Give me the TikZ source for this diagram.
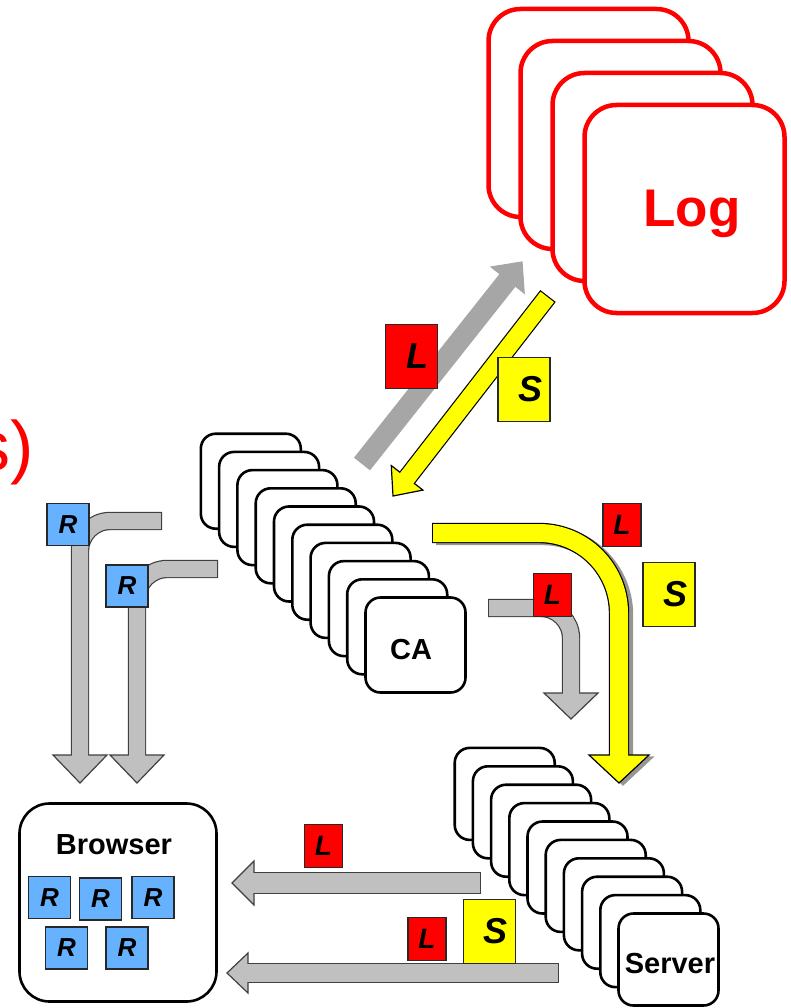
\documentclass[tikz,border=0pt]{standalone}
\usepackage{fontspec}
\setmainfont{Liberation Sans}
\usetikzlibrary{calc}

\definecolor{tagred}{RGB}{255,0,0}
\definecolor{tagyellow}{RGB}{255,255,0}
\definecolor{tagblue}{RGB}{102,178,255}
\definecolor{pipegray}{RGB}{192,192,192}
\definecolor{pipeline}{RGB}{64,64,64}
\definecolor{diaggray}{RGB}{166,166,166}
\definecolor{shadowgray}{RGB}{150,150,150}
\definecolor{tagline}{RGB}{40,40,40}

% Block arrow: #1 fill, #2 outline, #3 shaft width, #4 head half-width,
% #5 bend radius, #6 shaft path (tail ... head base), #7 head base, #8 tip
\newcommand{\blockarrow}[8]{%
  \draw[line width=#3pt+2.4pt, draw=#2, rounded corners=#5] #6;
  \filldraw[fill=#1, draw=#2, line width=1.2pt, line join=miter]
    ($(#7)!#4pt!90:(#8)$) -- (#8) -- ($(#7)!#4pt!-90:(#8)$) -- cycle;
  \draw[line width=#3pt, draw=#1, rounded corners=#5,
        shorten <=1.2pt, shorten >=-4pt] #6;
}

\newcommand{\bigtagfont}{\fontsize{36}{40}\selectfont\bfseries\itshape}
\newcommand{\smalltagfont}{\fontsize{28}{32}\selectfont\bfseries\itshape}
\newcommand{\rtagfont}{\fontsize{26}{30}\selectfont\bfseries\itshape}
\newcommand{\cardfont}{\fontsize{29}{34}\selectfont\bfseries}

\tikzset{
  card/.style={draw=black, line width=2.6pt, fill=white, rounded corners=15pt,
    minimum width=100pt, minimum height=95pt, inner sep=0pt, outer sep=0pt},
  srvcard/.style={card, minimum height=92pt},
  logcard/.style={draw=red, line width=4.5pt, fill=white, rounded corners=32pt,
    minimum width=200pt, minimum height=208pt, inner sep=0pt, outer sep=0pt},
  browserbox/.style={draw=black, line width=2.6pt, fill=white, rounded corners=30pt,
    minimum width=197pt, minimum height=198pt, inner sep=0pt, outer sep=0pt},
  cardtext/.style={anchor=base, inner sep=0pt, font=\cardfont},
  tag/.style={draw=tagline, line width=1.2pt, inner sep=0pt, outer sep=0pt},
  bigtag/.style={tag, minimum width=52pt, minimum height=64pt, font=\bigtagfont,
    execute at begin node=\hspace*{12pt}},
  smalltag/.style={tag, minimum width=38pt, minimum height=43pt, font=\smalltagfont},
  rtag/.style={tag, fill=tagblue, minimum width=42pt, minimum height=42pt, font=\rtagfont},
}

\begin{document}
\begin{tikzpicture}[x=1pt, y=-1pt]
\useasboundingbox (0,0) rectangle (790,1008);

% ---- Log stack ----
\foreach \k in {3,2,1} \node[logcard] (logback\k) at ({684.5-32*\k},{209-32*\k}) {};
\node[logcard] (log) at (684.5,209) {};
\node[anchor=base, inner sep=0pt, text=red, font=\fontsize{53}{60}\selectfont\bfseries]
  (logtext) at (692,227) {Log};

% ---- CA stack ----
\foreach \k in {9,8,...,1} \node[card] (caback\k) at ({415.5-18.3*\k},{645-18.2*\k}) {};
\node[card] (ca) at (415.5,645) {};
\node[cardtext] (catext) at (411,659) {CA};

% ---- Server stack ----
\foreach \k in {9,8,...,1} \node[srvcard] (srvback\k) at ({668.5-18.2*\k},{959.5-18.4*\k}) {};
\node[srvcard] (server) at (668.5,959.5) {};
\node[cardtext] (servertext) at (670,973) {Server};

% ---- Browser ----
\node[browserbox] (browser) at (118,902.5) {};
\node[cardtext] (browsertext) at (114,854) {Browser};

% ---- CA <-> Log ----
\coordinate (gt) at (362,464);
\coordinate (gp) at (522,262);
\coordinate (gb) at ($(gp)!23pt!(gt)$);
\blockarrow{diaggray}{diaggray}{18}{21}{0pt}{(gt) -- (gb)}{gb}{gp}

\coordinate (yt) at (548,296);
\coordinate (yp) at (393,496);
\coordinate (yb) at ($(yp)!23pt!(yt)$);
\blockarrow{tagyellow}{black}{17}{20}{0pt}{(yt) -- (yb)}{yb}{yp}

% ---- CA -> Server (with shadow) ----
\coordinate (bt) at (432,533);
\coordinate (bc) at (619,533);
\coordinate (bb) at (619,755);
\coordinate (bp) at (619,783);
\begin{scope}[transform canvas={xshift=4pt,yshift=-2pt}]
  \blockarrow{shadowgray}{shadowgray}{18}{30}{80pt}{(bt) -- (bc) -- (bb)}{bb}{bp}
\end{scope}
\blockarrow{tagyellow}{black}{18}{30}{80pt}{(bt) -- (bc) -- (bb)}{bb}{bp}

\coordinate (st) at (488,608);
\coordinate (sc) at (571,608);
\coordinate (sb) at (571,693);
\coordinate (sp) at (571,719);
\blockarrow{pipegray}{pipeline}{16}{27}{30pt}{(st) -- (sc) -- (sb)}{sb}{sp}

% ---- CA -> Browser ----
\coordinate (at) at (162,521);
\coordinate (ac) at (80,521);
\coordinate (ab) at (80,755);
\coordinate (ap) at (80,783);
\blockarrow{pipegray}{pipeline}{16}{27}{30pt}{(at) -- (ac) -- (ab)}{ab}{ap}

\coordinate (ct) at (218,569);
\coordinate (cc) at (137,569);
\coordinate (cb) at (137,755);
\coordinate (cp) at (137,783);
\blockarrow{pipegray}{pipeline}{16}{27}{30pt}{(ct) -- (cc) -- (cb)}{cb}{cp}

% ---- Server -> Browser ----
\coordinate (ht) at (481,883);
\coordinate (hb) at (254,883);
\coordinate (hp) at (232,883);
\blockarrow{pipegray}{pipeline}{20}{22}{0pt}{(ht) -- (hb)}{hb}{hp}

\coordinate (kt) at (559,973);
\coordinate (kb) at (248,973);
\coordinate (kp) at (227,973);
\blockarrow{pipegray}{pipeline}{18}{20}{0pt}{(kt) -- (kb)}{kb}{kp}

% ---- tags ----
\node[bigtag, fill=tagred] (tagLlog) at (411.5,356.5) {L};
\node[bigtag, fill=tagyellow] (tagSlog) at (524,389.5) {S};
\node[smalltag, fill=tagred] (tagLsrvA) at (552.5,595) {L};
\node[smalltag, fill=tagred] (tagLsrvB) at (622,525) {L};
\node[bigtag, fill=tagyellow] (tagSsrv) at (669,594.5) {S};
\node[smalltag, fill=tagred] (tagLbrA) at (323.5,846) {L};
\node[smalltag, fill=tagred] (tagLbrB) at (427,939) {L};
\node[bigtag, fill=tagyellow] (tagSbr) at (489.5,931.5) {S};

\node[rtag] (rA) at (68,524.5) {R};
\node[rtag] (rB) at (127,586) {R};
\node[rtag] (r1) at (49.5,897.5) {R};
\node[rtag] (r2) at (100.5,899) {R};
\node[rtag] (r3) at (153,897.5) {R};
\node[rtag] (r4) at (66.5,948) {R};
\node[rtag] (r5) at (127,948) {R};

% ---- title fragment at the left edge ----
\begin{scope}
  \clip (0,0) rectangle (790,1008);
  \node[anchor=base east, inner sep=0pt, text=red, font=\fontsize{70}{80}\selectfont]
    (title) at (34,470) {s)};
\end{scope}
\end{tikzpicture}
\end{document}
